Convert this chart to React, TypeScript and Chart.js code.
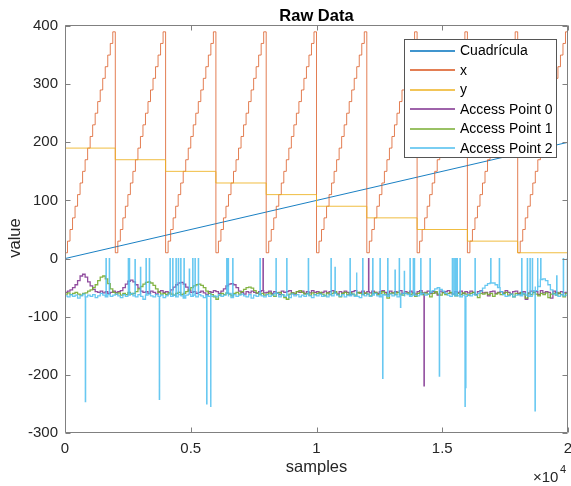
import React, { useEffect, useRef } from 'react';
import { Chart, registerables } from 'chart.js';

Chart.register(...registerables);

// ---------------- data ----------------
const SAMPLE_STEP = 100; // samples between successive readings
const TOTAL_SAMPLES = 20000;

const cuadSamples = [0, 20000];
const cuadValues = [0, 200];

// x coordinate of each grid column (repeats every 20 grid points)
const xLevels = [10, 30, 50, 70, 90, 110, 130, 150, 170, 190, 210, 230, 250, 270, 290, 310, 330, 350, 370, 390];
// y coordinate of each grid row (one row per 2000 samples)
const yLevels = [190, 170, 150, 130, 110, 90, 70, 50, 30, 10];

// RSSI readings (one every 100 samples)
const ap0Base = [
  -58, -56, -54, -50, -45, -38, -30, -27, -32, -40, -47, -53, -57, -58, -56, -59, -57, -60, -58, -56,
  -58, -57, -55, -50, -44, -39, -37, -40, -45, -51, -56, -58, -57, -60, -56, -58, -61, -57, -55, -58,
  -57, -59, -54, -49, -45, -42, -41, -44, -49, -55, -58, -57, -60, -58, -56, -59, -62, -57, -58, -55,
  -57, -60, -56, -52, -47, -44, -43, -45, -50, -56, -58, -61, -57, -59, -56, -58, -60, -57, -55, -59,
  -58, -56, -60, -57, -59, -62, -56, -58, -57, -55, -59, -61, -57, -58, -56, -60, -57, -59, -55, -58,
  -57, -60, -58, -56, -59, -57, -55, -58, -61, -57, -59, -56, -58, -62, -57, -55, -59, -58, -56, -60,
  -57, -59, -56, -58, -60, -57, -55, -58, -62, -56, -59, -57, -58, -55, -60, -57, -59, -56, -58, -61,
  -57, -55, -59, -58, -56, -60, -57, -59, -63, -56, -58, -57, -55, -59, -61, -57, -58, -56, -60, -57,
  -59, -56, -58, -62, -57, -55, -59, -58, -64, -57, -56, -60, -58, -57, -59, -55, -58, -61, -57, -56,
  -60, -58, -57, -70, -59, -56, -58, -57, -62, -55, -59, -57, -58, -68, -56, -58, -60, -57, -59, -58,
  -57,
];
const ap1Base = [
  -61, -59, -62, -60, -58, -61, -63, -60, -59, -56, -54, -50, -45, -38, -32, -30, -35, -43, -52, -58,
  -61, -59, -63, -60, -62, -58, -61, -60, -57, -52, -48, -44, -41, -40, -42, -46, -52, -58, -61, -60,
  -62, -59, -61, -63, -60, -58, -62, -60, -57, -54, -50, -47, -45, -44, -46, -50, -56, -60, -62, -66,
  -70, -63, -60, -62, -59, -61, -64, -60, -58, -61, -57, -53, -50, -49, -51, -55, -59, -62, -60, -63,
  -61, -59, -62, -65, -60, -58, -62, -67, -70, -61, -59, -60, -57, -55, -58, -61, -60, -63, -59, -62,
  -60, -58, -61, -64, -59, -62, -60, -57, -61, -66, -60, -58, -62, -59, -61, -63, -58, -60, -62, -59,
  -61, -64, -60, -58, -62, -60, -57, -61, -68, -60, -59, -62, -58, -61, -63, -60, -59, -62, -60, -65,
  -60, -58, -62, -59, -61, -66, -60, -57, -61, -63, -59, -62, -60, -58, -61, -64, -60, -62, -59, -61,
  -63, -60, -58, -62, -67, -60, -61, -59, -62, -60, -65, -61, -59, -62, -60, -58, -63, -61, -66, -60,
  -62, -59, -61, -68, -60, -62, -58, -61, -64, -60, -62, -59, -67, -61, -60, -63, -59, -62, -66, -60,
  -61,
];
const ap2Base = [
  -64, -66, -62, -65, -63, -68, -64, -61, -66, -63, -65, -62, -67, -64, -60, -63, -66, -62, -65, -63,
  -61, -64, -67, -62, -65, -63, -60, -64, -66, -62, -65, -70, -63, -61, -64, -66, -62, -65, -63, -67,
  -64, -61, -65, -63, -66, -62, -64, -68, -63, -61, -65, -63, -66, -62, -64, -67, -63, -65, -61, -64,
  -66, -62, -65, -63, -60, -64, -67, -62, -65, -63, -61, -64, -66, -62, -68, -63, -65, -61, -64, -66,
  -62, -65, -63, -60, -64, -66, -62, -65, -63, -67, -61, -64, -62, -66, -63, -65, -61, -64, -67, -62,
  -64, -61, -65, -63, -66, -62, -64, -60, -63, -65, -62, -66, -63, -64, -61, -65, -63, -67, -62, -64,
  -61, -65, -63, -60, -64, -66, -62, -63, -65, -61, -64, -62, -66, -63, -60, -64, -62, -65, -63, -61,
  -64, -62, -60, -63, -61, -58, -55, -52, -50, -53, -56, -60, -63, -65, -62, -64, -61, -66, -63, -65,
  -62, -64, -61, -63, -60, -56, -51, -46, -43, -42, -42, -45, -50, -57, -62, -65, -64, -61, -66, -63,
  -62, -64, -60, -63, -65, -60, -55, -48, -40, -36, -35, -38, -45, -54, -61, -63, -65, -62, -64, -63,
  -62,
];

// short dropouts / outliers: sample index and value
const ap0SpikeSamples = [7873, 12070, 14274];
const ap0SpikeValues = [0, 0, -219];

const ap2SpikeSamples = [
  808, 1630, 1761, 2517, 2557, 2783, 3000, 3221, 3352, 3750, 4175, 4282, 4413, 4505, 4600, 4731, 4942,
  5077, 5169, 5300, 5633, 5793, 6429, 6493, 6668, 7753, 8389, 8815, 9674, 10576, 10735, 11332, 11598,
  11836, 12234, 12524, 12630, 12830, 13121, 13290, 13340, 13491, 13717, 13848, 13888, 14143, 14513,
  14883, 15400, 15467, 15534, 15598, 15705, 15904, 15930, 16302, 16926, 17268, 18158, 18381, 18488,
  18580, 18688, 18794, 18913, 19550, 19813, 19975,
];
const ap2SpikeValues = [
  -246, 0, 0, 0, 0, -2, -15, 0, 0, -242, 0, 0, 0, 0, 0, 0, -18,
  0, 0, 0, -250, -254, 0, 0, 0, 0, 0, 0, 0, 0, -15, 0, -25,
  0, 0, 0, -206, 0, -20, 0, -84, -22, 0, 0, 0, 0, 0,
  -202, 0, 0, 0, 0, 0, -254, -222, 0, 0, 0, 0, 0, 0,
  0, -262, 0, 0, -30, 0, 0,
];

const seriesNames = ['Cuadrícula', 'x', 'y', 'Access Point 0', 'Access Point 1', 'Access Point 2'];
const seriesColors = ['#0072BD', '#D95319', '#EDB120', '#7E2F8E', '#77AC30', '#4DBEEE'];
const seriesLineColors = [
  'rgba(0,114,189,0.9)',
  'rgba(217,83,25,0.75)',
  'rgba(237,177,32,0.85)',
  'rgba(126,47,142,0.85)',
  'rgba(119,172,48,0.9)',
  'rgba(77,190,238,0.85)',
];

const xTickValues = [0, 5000, 10000, 15000, 20000];
const xTickLabels = ['0', '0.5', '1', '1.5', '2'];
const yTickValues = [-300, -200, -100, 0, 100, 200, 300, 400];
const yTickLabels = ['-300', '-200', '-100', '0', '100', '200', '300', '400'];

// ---------------- builders ----------------
type P = { x: number; y: number };

function buildX(): P[] {
  const pts: P[] = [];
  const cycles = yLevels.length;
  for (let c = 0; c < cycles; c++) {
    for (let k = 0; k < xLevels.length; k++) {
      pts.push({ x: (c * xLevels.length + k) * SAMPLE_STEP, y: xLevels[k] });
    }
  }
  pts.push({ x: TOTAL_SAMPLES, y: xLevels[xLevels.length - 1] });
  return pts;
}

function buildY(): P[] {
  const per = xLevels.length * SAMPLE_STEP;
  const pts: P[] = yLevels.map((v, i) => ({ x: i * per, y: v }));
  pts.push({ x: TOTAL_SAMPLES, y: yLevels[yLevels.length - 1] });
  return pts;
}

function buildAP(base: number[], spikeS: number[], spikeV: number[]): P[] {
  const pts: P[] = base.map((v, i) => ({ x: i * SAMPLE_STEP, y: v }));
  spikeS.forEach((s, j) => {
    const b = base[Math.min(base.length - 1, Math.floor(s / SAMPLE_STEP))];
    pts.push({ x: s, y: spikeV[j] });
    pts.push({ x: s + 12, y: b });
  });
  pts.sort((a, b) => a.x - b.x);
  return pts;
}

const FONT = '"Liberation Sans", Arial, Helvetica, sans-serif';

const overlay = {
  id: 'overlay',
  afterDraw(chart: any) {
    const { ctx, chartArea: a, scales } = chart;
    const xs = scales.x;
    const ys = scales.y;
    ctx.save();
    // axes box
    const L = Math.round(a.left) + 0.5;
    const R = Math.round(a.right) - 0.5;
    const T = Math.round(a.top) - 0.5;
    const B = Math.round(a.bottom) - 0.5;
    ctx.strokeStyle = '#808080';
    ctx.lineWidth = 1;
    ctx.beginPath();
    ctx.rect(L, T, R - L, B - T);
    ctx.stroke();
    // ticks (inside, all four sides)
    const TL = 5;
    ctx.beginPath();
    xTickValues.forEach((v) => {
      const px = Math.round(xs.getPixelForValue(v)) + 0.5;
      ctx.moveTo(px, B);
      ctx.lineTo(px, B - TL);
      ctx.moveTo(px, T);
      ctx.lineTo(px, T + TL);
    });
    yTickValues.forEach((v) => {
      const py = Math.round(ys.getPixelForValue(v)) + 0.5;
      ctx.moveTo(L, py);
      ctx.lineTo(L + TL, py);
      ctx.moveTo(R, py);
      ctx.lineTo(R - TL, py);
    });
    ctx.stroke();

    // tick labels
    ctx.fillStyle = '#262626';
    ctx.font = `15px ${FONT}`;
    ctx.textBaseline = 'middle';
    ctx.textAlign = 'center';
    xTickValues.forEach((v, i) => {
      ctx.fillText(xTickLabels[i], xs.getPixelForValue(v), a.bottom + 16);
    });
    ctx.textAlign = 'right';
    yTickValues.forEach((v, i) => {
      ctx.fillText(yTickLabels[i], a.left - 7, ys.getPixelForValue(v));
    });

    // exponent
    ctx.textAlign = 'left';
    ctx.textBaseline = 'alphabetic';
    ctx.font = `15px ${FONT}`;
    ctx.fillText('\u00d710', 533, 482);
    ctx.font = `11px ${FONT}`;
    ctx.fillText('4', 560, 473);

    // axis labels
    ctx.font = `16.5px ${FONT}`;
    ctx.textAlign = 'center';
    ctx.textBaseline = 'alphabetic';
    ctx.fillText('samples', (a.left + a.right) / 2, 472);
    ctx.save();
    ctx.translate(15, 238);
    ctx.rotate(-Math.PI / 2);
    ctx.textBaseline = 'middle';
    ctx.fillText('value', 0, 0);
    ctx.restore();

    // title
    ctx.fillStyle = '#000000';
    ctx.font = `bold 16.5px ${FONT}`;
    ctx.textAlign = 'center';
    ctx.textBaseline = 'alphabetic';
    ctx.fillText('Raw Data', (a.left + a.right) / 2, 21);

    // legend
    const lx = 404.5, ly = 39.5, lw = 152, lh = 118;
    ctx.fillStyle = '#ffffff';
    ctx.fillRect(lx, ly, lw, lh);
    ctx.strokeStyle = '#555555';
    ctx.lineWidth = 1;
    ctx.strokeRect(lx, ly, lw, lh);
    ctx.font = `14px ${FONT}`;
    ctx.textAlign = 'left';
    ctx.textBaseline = 'middle';
    seriesNames.forEach((name, i) => {
      const yy = 50.7 + i * 19.5;
      ctx.strokeStyle = seriesColors[i];
      ctx.globalAlpha = 0.75;
      ctx.lineWidth = 2;
      ctx.beginPath();
      ctx.moveTo(410, Math.round(yy));
      ctx.lineTo(455, Math.round(yy));
      ctx.stroke();
      ctx.globalAlpha = 1;
      ctx.fillStyle = '#000000';
      ctx.fillText(name, 460, yy + 0.5);
    });
    ctx.restore();
  },
};

export default function App() {
  const ref = useRef<HTMLCanvasElement | null>(null);
  useEffect(() => {
    if (!ref.current) return;
    const seriesData: P[][] = [
      cuadSamples.map((s, i) => ({ x: s, y: cuadValues[i] })),
      buildX(),
      buildY(),
      buildAP(ap0Base, ap0SpikeSamples, ap0SpikeValues),
      buildAP(ap1Base, [], []),
      buildAP(ap2Base, ap2SpikeSamples, ap2SpikeValues),
    ];
    const chart = new Chart(ref.current, {
      type: 'line',
      data: {
        datasets: seriesData.map((d, i) => ({
          label: seriesNames[i],
          data: d,
          borderColor: seriesLineColors[i],
          backgroundColor: seriesColors[i],
          borderWidth: i >= 3 ? 1.3 : 1,
          pointRadius: 0,
          fill: false,
          // 'before' in Chart.js: hold previous value until the next sample, then jump
          stepped: i === 0 ? false : 'before',
          order: seriesNames.length - i,
        })),
      },
      options: {
        animation: false,
        responsive: false,
        maintainAspectRatio: false,
        devicePixelRatio: 1,
        events: [],
        layout: { padding: { left: 65, top: 26, right: 3, bottom: 53 } },
        plugins: {
          legend: { display: false },
          title: { display: false },
          tooltip: { enabled: false },
        },
        scales: {
          x: { type: 'linear', min: 0, max: TOTAL_SAMPLES, display: false },
          y: { type: 'linear', min: -300, max: 400, display: false },
        },
      },
      plugins: [overlay],
    } as any);
    return () => chart.destroy();
  }, []);
  return (
    <div style={{ position: 'absolute', left: 0, top: 0, width: 571, height: 486, background: '#ffffff' }}>
      <canvas ref={ref} width={571} height={486} style={{ display: 'block', width: 571, height: 486 }} />
    </div>
  );
}
